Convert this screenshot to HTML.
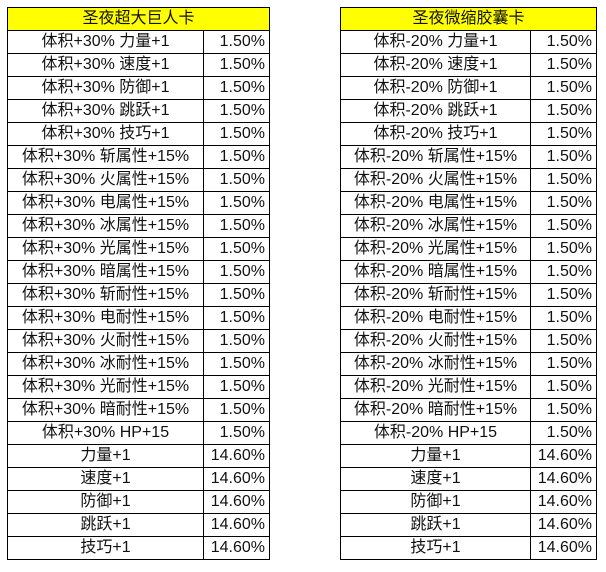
<!DOCTYPE html>
<html><head><meta charset="utf-8"><style>
body{margin:0;width:606px;height:572px;background:#fff;position:relative;overflow:hidden;font-family:"Liberation Sans","Noto Sans CJK SC",sans-serif;}
table{position:absolute;top:7px;border-collapse:collapse;table-layout:fixed;font-size:16px;color:#111;}
td{border:1.5px solid #000;height:22px;padding:0;text-align:center;line-height:22px;white-space:nowrap;}
td.h{background:#ffff00;}
td.p{text-align:right;padding-right:4px;}
</style></head><body>
<table style="left:7px;width:262px">
<colgroup><col style="width:196px"><col style="width:66px"></colgroup>
<tr><td class="h" colspan="2">圣夜超大巨人卡</td></tr>
<tr><td>体积+30% 力量+1</td><td class="p">1.50%</td></tr>
<tr><td>体积+30% 速度+1</td><td class="p">1.50%</td></tr>
<tr><td>体积+30% 防御+1</td><td class="p">1.50%</td></tr>
<tr><td>体积+30% 跳跃+1</td><td class="p">1.50%</td></tr>
<tr><td>体积+30% 技巧+1</td><td class="p">1.50%</td></tr>
<tr><td>体积+30% 斩属性+15%</td><td class="p">1.50%</td></tr>
<tr><td>体积+30% 火属性+15%</td><td class="p">1.50%</td></tr>
<tr><td>体积+30% 电属性+15%</td><td class="p">1.50%</td></tr>
<tr><td>体积+30% 冰属性+15%</td><td class="p">1.50%</td></tr>
<tr><td>体积+30% 光属性+15%</td><td class="p">1.50%</td></tr>
<tr><td>体积+30% 暗属性+15%</td><td class="p">1.50%</td></tr>
<tr><td>体积+30% 斩耐性+15%</td><td class="p">1.50%</td></tr>
<tr><td>体积+30% 电耐性+15%</td><td class="p">1.50%</td></tr>
<tr><td>体积+30% 火耐性+15%</td><td class="p">1.50%</td></tr>
<tr><td>体积+30% 冰耐性+15%</td><td class="p">1.50%</td></tr>
<tr><td>体积+30% 光耐性+15%</td><td class="p">1.50%</td></tr>
<tr><td>体积+30% 暗耐性+15%</td><td class="p">1.50%</td></tr>
<tr><td>体积+30% HP+15</td><td class="p">1.50%</td></tr>
<tr><td>力量+1</td><td class="p">14.60%</td></tr>
<tr><td>速度+1</td><td class="p">14.60%</td></tr>
<tr><td>防御+1</td><td class="p">14.60%</td></tr>
<tr><td>跳跃+1</td><td class="p">14.60%</td></tr>
<tr><td>技巧+1</td><td class="p">14.60%</td></tr>
</table>
<table style="left:340px;width:256px">
<colgroup><col style="width:190px"><col style="width:66px"></colgroup>
<tr><td class="h" colspan="2">圣夜微缩胶囊卡</td></tr>
<tr><td>体积-20% 力量+1</td><td class="p">1.50%</td></tr>
<tr><td>体积-20% 速度+1</td><td class="p">1.50%</td></tr>
<tr><td>体积-20% 防御+1</td><td class="p">1.50%</td></tr>
<tr><td>体积-20% 跳跃+1</td><td class="p">1.50%</td></tr>
<tr><td>体积-20% 技巧+1</td><td class="p">1.50%</td></tr>
<tr><td>体积-20% 斩属性+15%</td><td class="p">1.50%</td></tr>
<tr><td>体积-20% 火属性+15%</td><td class="p">1.50%</td></tr>
<tr><td>体积-20% 电属性+15%</td><td class="p">1.50%</td></tr>
<tr><td>体积-20% 冰属性+15%</td><td class="p">1.50%</td></tr>
<tr><td>体积-20% 光属性+15%</td><td class="p">1.50%</td></tr>
<tr><td>体积-20% 暗属性+15%</td><td class="p">1.50%</td></tr>
<tr><td>体积-20% 斩耐性+15%</td><td class="p">1.50%</td></tr>
<tr><td>体积-20% 电耐性+15%</td><td class="p">1.50%</td></tr>
<tr><td>体积-20% 火耐性+15%</td><td class="p">1.50%</td></tr>
<tr><td>体积-20% 冰耐性+15%</td><td class="p">1.50%</td></tr>
<tr><td>体积-20% 光耐性+15%</td><td class="p">1.50%</td></tr>
<tr><td>体积-20% 暗耐性+15%</td><td class="p">1.50%</td></tr>
<tr><td>体积-20% HP+15</td><td class="p">1.50%</td></tr>
<tr><td>力量+1</td><td class="p">14.60%</td></tr>
<tr><td>速度+1</td><td class="p">14.60%</td></tr>
<tr><td>防御+1</td><td class="p">14.60%</td></tr>
<tr><td>跳跃+1</td><td class="p">14.60%</td></tr>
<tr><td>技巧+1</td><td class="p">14.60%</td></tr>
</table>
</body></html>
